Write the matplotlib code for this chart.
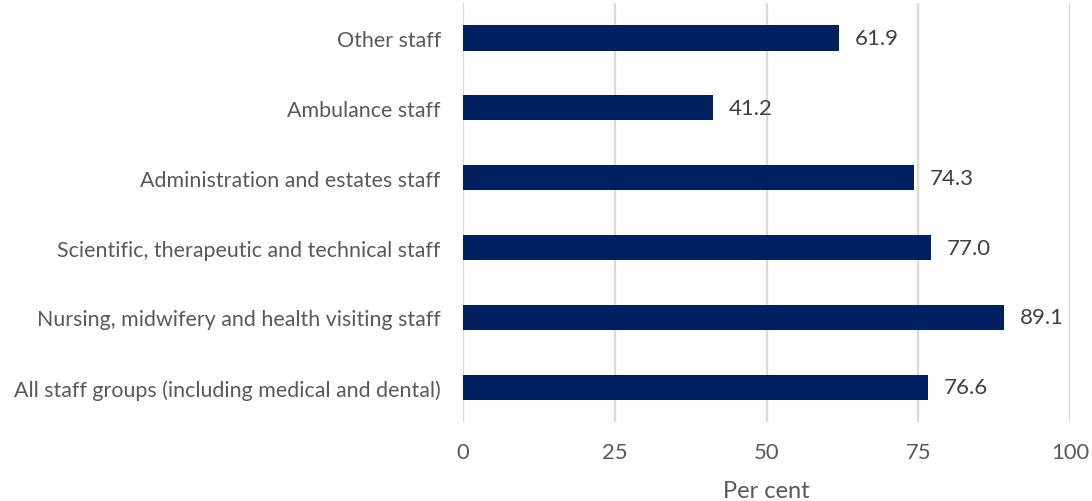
import matplotlib
matplotlib.use("Agg")
import matplotlib.pyplot as plt

plt.rcParams['font.family'] = ['Lato', 'DejaVu Sans']

# staff groups, bottom to top
groups = [
    "All staff groups (including medical and dental)",
    "Nursing, midwifery and health visiting staff",
    "Scientific, therapeutic and technical staff",
    "Administration and estates staff",
    "Ambulance staff",
    "Other staff",
]
values = [76.6, 89.1, 77.0, 74.3, 41.2, 61.9]
xticks = [0, 25, 50, 75, 100]

grey = "#595959"
navy = "#002060"

fig = plt.figure(figsize=(10.92, 5.02), dpi=100)
ax = fig.add_axes([0.424, 0.157, 0.556, 0.835])

pos = range(len(groups))
bars = ax.barh(pos, values, height=0.36, color=navy, zorder=3)
for b, v in zip(bars, values):
    ax.text(b.get_width() + 2.6, b.get_y() + b.get_height() / 2, f"{v:.1f}",
            va="center", ha="left", fontsize=16, color="#404040")

ax.set_xlim(0, 100)
ax.set_ylim(-0.5, len(groups) - 0.5)
ax.set_xticks(xticks)
ax.set_yticks(list(pos))
ax.set_yticklabels(groups)
ax.tick_params(axis="y", length=0, pad=16, labelsize=15.4, labelcolor=grey)
ax.tick_params(axis="x", length=0, pad=14, labelsize=15.8, labelcolor=grey)
ax.grid(axis="x", color="#d9d9d9", linewidth=1.6, zorder=0)
for s in ax.spines.values():
    s.set_visible(False)
ax.set_xlabel("Per cent", fontsize=17, color=grey, labelpad=13)

fig.savefig("out.png", dpi=100)
